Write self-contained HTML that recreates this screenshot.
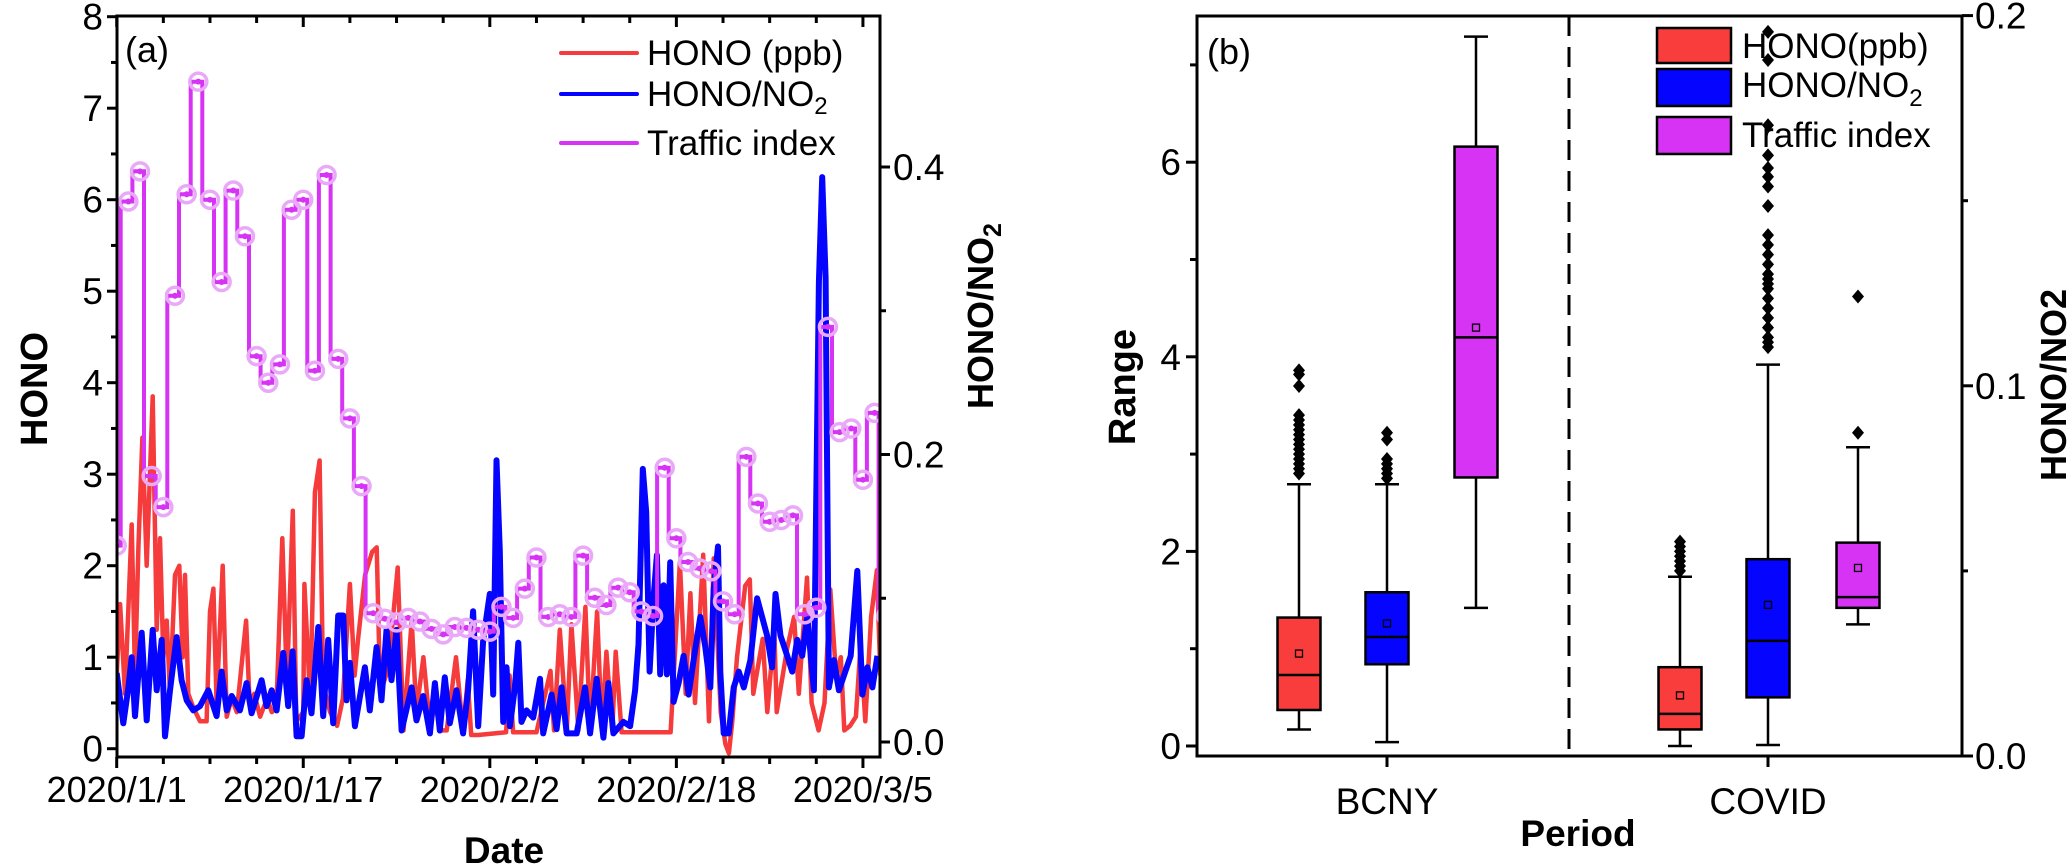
<!DOCTYPE html>
<html><head><meta charset="utf-8"><style>
html,body{margin:0;padding:0;background:#fff;}
svg{display:block;font-family:"Liberation Sans",Arial,sans-serif;}
</style></head><body>
<svg id="fig" width="2067" height="865" viewBox="0 0 2067 865" xmlns="http://www.w3.org/2000/svg">
<defs><clipPath id="clipA"><rect x="117" y="16" width="763" height="741"/></clipPath></defs>
<g id="panelA"></g>
<g id="panelB"></g>
</svg>
<script>
// ---------- Panel (a) data ----------
const trafficDays = [0,1,2,3,4,5,6,7,8,9,10,11,12,13,14,15,16,17,18,19,20,21,22,23,24,25,26,27,28,29,30,31,32,33,34,35,36,37,38,39,40,41,42,43,44,45,46,47,48,49,50,51,52,53,54,55,56,57,58,59,60,61,62,63,64,65,66];
const trafficVals = [2.22,5.98,6.31,2.98,2.64,4.95,6.06,7.29,6.0,5.1,6.10,5.6,4.29,4.0,4.2,5.89,6.0,4.13,6.27,4.26,3.61,2.87,1.48,1.42,1.38,1.43,1.39,1.31,1.25,1.33,1.32,1.30,1.28,1.55,1.43,1.75,2.09,1.44,1.47,1.44,2.11,1.65,1.57,1.76,1.71,1.5,1.45,3.07,2.30,2.04,1.97,1.94,1.61,1.47,3.19,2.68,2.48,2.50,2.55,1.47,1.54,4.61,3.46,3.50,2.94,3.67,1.45];
const honoDays = [0,0.29,0.71,1.29,1.57,1.86,2.2,2.57,3.09,3.43,3.71,4.0,4.29,4.57,5.0,5.37,5.66,5.86,6.14,6.57,7.14,7.71,8.0,8.29,8.57,9.09,9.43,9.86,10.3,11.1,11.4,11.8,12.3,12.9,13.3,13.7,14.2,14.6,15.1,15.4,16.0,16.1,16.6,17.0,17.4,17.7,18.3,18.9,19.4,20.0,20.4,20.7,21.3,21.9,22.3,22.6,23.1,23.6,24.1,24.6,25.3,25.7,26.3,26.9,27.3,27.7,28.3,29.1,29.7,30.1,30.4,31,33.4,33.7,34.0,36.0,37.2,37.5,38.0,38.6,39.0,39.6,40.2,40.6,41.2,41.6,42.0,42.5,42.8,43.3,47.5,47.9,48.3,48.8,49.2,49.6,50.3,50.8,51.2,51.8,52.2,52.5,52.8,53.2,53.9,54.3,54.6,55.4,55.8,56.4,56.6,57.5,58.1,58.5,59.2,59.6,60.2,60.7,61.2,61.7,62.1,62.4,62.9,63.4,63.8,64.2,64.7,65.2,65.5];
const honoVals = [0.8,1.58,0.6,2.45,0.8,2.2,3.4,2.0,3.85,1.3,2.3,1.0,1.4,0.6,1.9,2.0,1.0,1.9,0.6,0.45,0.3,0.3,1.5,1.75,0.5,2.0,0.35,0.55,0.4,1.4,0.5,0.6,0.35,0.55,0.4,0.45,2.3,0.7,2.6,0.3,0.4,1.8,0.5,2.8,3.15,0.7,0.4,0.25,0.55,1.8,0.8,1.2,1.9,2.15,2.2,0.6,0.8,1.3,1.98,0.2,1.4,0.4,1.0,0.2,0.55,0.2,0.2,1.0,0.2,0.75,0.15,0.15,0.18,0.8,0.18,0.18,0.85,0.2,1.3,0.2,1.36,0.2,1.55,0.2,1.5,0.2,1.06,0.2,1.06,0.18,0.18,1.1,2.04,0.6,1.7,0.5,2.12,0.3,2.08,0.4,0.05,-0.05,0.3,1.0,1.78,1.85,0.6,1.2,0.4,1.3,0.4,1.1,1.44,0.6,1.87,0.5,0.2,0.5,1.74,0.8,1.0,0.2,0.25,0.35,1.14,0.3,1.44,1.95,0.8];
const ratioDays = [0,0.57,1.0,1.29,1.57,2.14,2.57,3.09,3.43,3.86,4.14,4.57,5.14,5.57,6.0,6.57,7.14,7.86,8.57,9.0,9.43,9.86,10.57,11.14,11.57,12.43,12.86,13.29,13.71,14.29,14.71,15.09,15.43,15.86,16.29,16.71,17.29,17.71,18.14,18.57,19.0,19.43,19.71,20.0,20.43,21.29,21.71,22.29,22.71,23.14,23.57,24.0,24.43,25.29,25.71,26.29,26.86,27.29,27.71,28.14,28.57,29.14,29.71,30.14,30.57,31.0,31.43,32.0,
32.29,32.57,32.86,33.15,33.43,33.72,34.15,34.44,34.72,35.15,35.72,36.30,36.58,37.30,37.73,38.16,38.59,39.45,40.17,40.60,41.17,41.74,42.17,42.60,43.46,44.03,44.46,44.75,45.12,45.41,45.70,46.04,46.33,46.61,46.90,47.19,47.47,47.76,48.19,48.62,49.05,49.48,50.05,50.48,50.91,51.20,51.57,51.77,52.06,52.49,52.92,53.35,53.78,54.35,54.92,55.35,55.78,56.21,56.50,56.93,57.50,57.93,58.36,58.79,59.22,59.79,60.22,60.51,60.80,61.08,61.51,61.94,62.95,63.52,63.95,64.38,64.81,65.24];
const ratioVals = [0.048,0.013,0.038,0.059,0.018,0.076,0.015,0.078,0.036,0.071,0.004,0.036,0.073,0.043,0.029,0.022,0.025,0.036,0.018,0.049,0.022,0.032,0.022,0.041,0.020,0.043,0.025,0.036,0.022,0.062,0.025,0.063,0.004,0.004,0.043,0.020,0.080,0.018,0.071,0.013,0.088,0.088,0.029,0.055,0.011,0.052,0.022,0.066,0.029,0.078,0.043,0.078,0.008,0.038,0.015,0.032,0.006,0.041,0.008,0.045,0.013,0.036,0.006,0.036,0.091,0.011,0.071,0.103,
0.033,0.196,0.133,0.014,0.052,0.011,0.038,0.069,0.014,0.022,0.017,0.044,0.006,0.033,0.009,0.038,0.006,0.006,0.038,0.006,0.044,0.003,0.041,0.006,0.014,0.011,0.036,0.068,0.190,0.160,0.049,0.100,0.130,0.047,0.109,0.047,0.125,0.028,0.041,0.060,0.033,0.057,0.087,0.066,0.038,0.106,0.136,0.049,0.006,0.006,0.038,0.049,0.038,0.057,0.100,0.087,0.074,0.052,0.103,0.074,0.060,0.049,0.071,0.060,0.087,0.036,0.320,0.393,0.323,0.038,0.057,0.036,0.060,0.119,0.033,0.052,0.038,0.060];
const xTickLabels = ["2020/1/1","2020/1/17","2020/2/2","2020/2/18","2020/3/5"];
const xTickDays = [0,16,32,48,64];
const leftTicksA = [0,1,2,3,4,5,6,7,8];
const rightTicksA = ["0.0","0.2","0.4"];

// ---------- Panel (b) data ----------
const periods = ["BCNY","COVID"];
const seriesNames = ["HONO(ppb)","HONO/NO2","Traffic index"];
const q1 = [[0.37,0.84,2.76],[0.17,0.50,1.42]];
const q3 = [[1.32,1.58,6.16],[0.81,1.92,2.09]];
const medians = [[0.73,1.12,4.20],[0.33,1.08,1.53]];
const means = [[0.95,1.26,4.30],[0.52,1.45,1.83]];
const whiskLow = [[0.17,0.04,1.42],[0.0,0.01,1.25]];
const whiskHigh = [[2.69,2.69,7.29],[1.74,3.92,3.07]];
const outliers = [
  [[2.8,2.85,2.9,2.95,3.0,3.05,3.1,3.15,3.2,3.25,3.3,3.35,3.4,3.7,3.82,3.86],[2.75,2.8,2.85,2.9,2.95,3.15,3.22],[]],
  [[1.8,1.85,1.9,1.95,2.0,2.05,2.1],[4.1,4.15,4.2,4.3,4.4,4.5,4.6,4.7,4.75,4.8,4.85,4.95,5.05,5.15,5.25,5.55,5.75,5.85,5.94,6.07,6.38,7.05,7.34],[3.22,4.62]]
];
const leftTicksB = [0,2,4,6];
const rightTicksB = ["0.0","0.1","0.2"];

const NS = "http://www.w3.org/2000/svg";
function mk(tag, attrs, parent){ const e=document.createElementNS(NS,tag); for(const k in attrs) e.setAttribute(k,attrs[k]); parent.appendChild(e); return e; }

// ===== Panel A =====
const A = document.getElementById('panelA');
const xA = d => 116.7 + d*11.66;
const yA = v => 748.7 - v*91.5;
const yR = r => 742 - r*1437.5;
const red="#f53b3b", blue="#0505ff", mag="#d633f5";

const plotA = mk('g',{'clip-path':'url(#clipA)'},A);



let p = '';
for(let i=0;i<Math.min(honoDays.length,honoVals.length);i++) p += (i?'L':'M')+xA(honoDays[i]).toFixed(1)+','+yA(honoVals[i]).toFixed(1);
const redLine = mk('path',{d:p,fill:'none',stroke:red,'stroke-width':4.5,'stroke-linejoin':'round'},plotA);



p='';
for(let i=0;i<Math.min(ratioDays.length,ratioVals.length);i++) p += (i?'L':'M')+xA(ratioDays[i]).toFixed(1)+','+yR(ratioVals[i]).toFixed(1);
const blueLine = mk('path',{d:p,fill:'none',stroke:blue,'stroke-width':6,'stroke-linejoin':'round'},plotA);



p='M'+xA(trafficDays[0])+','+yA(trafficVals[0]);
for(let i=1;i<trafficDays.length;i++){ p+='L'+(xA(trafficDays[i-1])+4).toFixed(1)+','+yA(trafficVals[i-1]).toFixed(1)+'L'+(xA(trafficDays[i-1])+4).toFixed(1)+','+yA(trafficVals[i]).toFixed(1)+'L'+xA(trafficDays[i]).toFixed(1)+','+yA(trafficVals[i]).toFixed(1);}
const trafLine = mk('path',{d:p,fill:'none',stroke:mag,'stroke-width':4},plotA);


for(let i=0;i<trafficDays.length;i++){
  const g = mk('g',{},plotA);
  
  
  mk('circle',{cx:xA(trafficDays[i]),cy:yA(trafficVals[i]),r:8.5,fill:'none',stroke:'#eaa9f8','stroke-width':3.5},g);
  mk('circle',{cx:xA(trafficDays[i]),cy:yA(trafficVals[i]),r:3,fill:mag},g);
}
// frame
const frameA = mk('rect',{x:117,y:16,width:763,height:741,fill:'none',stroke:'#000','stroke-width':3},A);


// left ticks
const ltA = mk('g',{},A);


for(let v=0; v<=8; v+=0.5){ mk('line',{x1:117,x2:(v%1===0)?107:111,y1:yA(v),y2:yA(v),stroke:'#000','stroke-width':3},ltA); }
leftTicksA.forEach(v=>{ const t=mk('text',{x:103,y:yA(v)+13,'text-anchor':'end','font-size':37},ltA); t.textContent=v; });
// right ticks
const rtA = mk('g',{},A);


[0,0.1,0.2,0.3,0.4].forEach((r,i)=>{ mk('line',{x1:880,x2:(i%2===0)?890:886,y1:yR(r),y2:yR(r),stroke:'#000','stroke-width':3},rtA); });
rightTicksA.forEach(s=>{ const t=mk('text',{x:893,y:yR(parseFloat(s))+13,'font-size':37},rtA); t.textContent=s; });
// x ticks
const xtA = mk('g',{},A);


for(let d=0; d<=64; d+=4){ const maj = d%16===0; mk('line',{x1:xA(d),x2:xA(d),y1:757,y2:maj?768:764,stroke:'#000','stroke-width':3},xtA); mk('line',{x1:xA(d),x2:xA(d),y1:16,y2:maj?27:23,stroke:'#000','stroke-width':3},xtA); }
xTickLabels.forEach((s,i)=>{ const t=mk('text',{x:xA(xTickDays[i]),y:802,'text-anchor':'middle','font-size':36},xtA); t.textContent=s; });
let t;
t=mk('text',{x:504,y:863,'text-anchor':'middle','font-size':37,'font-weight':'bold'},A); t.textContent='Date';
 
t=mk('text',{x:0,y:0,'text-anchor':'middle','font-size':38,'font-weight':'bold',transform:'translate(47,389) rotate(-90)'},A); t.textContent='HONO';
 
t=mk('text',{x:0,y:0,'text-anchor':'middle','font-size':36,'font-weight':'bold',transform:'translate(993,316) rotate(-90)'},A);
t.innerHTML='HONO/NO<tspan font-size="25" dy="8">2</tspan>';
 
t=mk('text',{x:125,y:62,'font-size':36},A); t.textContent='(a)';
 
// legend a
const legA = mk('g',{},A);


[[red,53,'HONO (ppb)'],[blue,94,'HONO/NO'],[mag,143,'Traffic index']].forEach((r,i)=>{
  const g=mk('g',{},legA);
  
  
  mk('line',{x1:561,x2:637,y1:r[1],y2:r[1],stroke:r[0],'stroke-width':4,'stroke-linecap':'round'},g);
  const tt=mk('text',{x:647,y:r[1]+12,'font-size':35},g);
  if(i===1) tt.innerHTML='HONO/NO<tspan font-size="24" dy="8">2</tspan>'; else tt.textContent=r[2];
});

// ===== Panel B =====
const B = document.getElementById('panelB');
const yB = v => 746 - v*97.3;
const centers = [[1299,1387,1476],[1680,1768,1858]];
const catX = [1387,1768];
const fills = ['#f93d3d','#0505ff','#d633f5'];
const bw = 43;
for(let c=0;c<2;c++) for(let s=0;s<3;s++){
  const g = mk('g',{},B);
  
  
  const cx = centers[c][s];
  mk('line',{x1:cx,x2:cx,y1:yB(whiskLow[c][s]),y2:yB(whiskHigh[c][s]),stroke:'#000','stroke-width':2.5},g);
  mk('line',{x1:cx-12,x2:cx+12,y1:yB(whiskLow[c][s]),y2:yB(whiskLow[c][s]),stroke:'#000','stroke-width':2.5},g);
  mk('line',{x1:cx-12,x2:cx+12,y1:yB(whiskHigh[c][s]),y2:yB(whiskHigh[c][s]),stroke:'#000','stroke-width':2.5},g);
  mk('rect',{x:cx-bw/2,y:yB(q3[c][s]),width:bw,height:yB(q1[c][s])-yB(q3[c][s]),fill:fills[s],stroke:'#000','stroke-width':2.5},g);
  mk('line',{x1:cx-bw/2,x2:cx+bw/2,y1:yB(medians[c][s]),y2:yB(medians[c][s]),stroke:'#000','stroke-width':2.5},g);
  mk('rect',{x:cx-3.5,y:yB(means[c][s])-3.5,width:7,height:7,fill:'none',stroke:'#000','stroke-width':1.3},g);
  outliers[c][s].forEach(v=>{ const y=yB(v); mk('path',{d:`M${cx},${y-7}L${cx+6},${y}L${cx},${y+7}L${cx-6},${y}Z`,fill:'#000'},g); });
}
const frameB = mk('rect',{x:1197,y:16,width:765,height:740,fill:'none',stroke:'#000','stroke-width':3},B);


const dash = mk('line',{x1:1569,x2:1569,y1:16,y2:756,stroke:'#000','stroke-width':3,'stroke-dasharray':'20 11'},B);


const ltB = mk('g',{},B);


for(let v=0; v<=7; v++){ mk('line',{x1:1197,x2:(v%2===0)?1186:1190,y1:yB(v),y2:yB(v),stroke:'#000','stroke-width':3},ltB); }
leftTicksB.forEach(v=>{ const tt=mk('text',{x:1181,y:yB(v)+13,'text-anchor':'end','font-size':37},ltB); tt.textContent=v; });
const rtB = mk('g',{},B);


const yRB = r => 756 - r*3702;
[0,0.05,0.1,0.15,0.2].forEach((r,i)=>{ mk('line',{x1:1962,x2:(i%2===0)?1973:1968,y1:yRB(r),y2:yRB(r),stroke:'#000','stroke-width':3},rtB); });
rightTicksB.forEach(s=>{ const tt=mk('text',{x:1975,y:yRB(parseFloat(s))+13,'font-size':37},rtB); tt.textContent=s; });
const xtB = mk('g',{},B);


periods.forEach((s,i)=>{ mk('line',{x1:catX[i],x2:catX[i],y1:756,y2:767,stroke:'#000','stroke-width':3},xtB); const tt=mk('text',{x:catX[i],y:814,'text-anchor':'middle','font-size':37},xtB); tt.textContent=s; });
t=mk('text',{x:1578,y:846,'text-anchor':'middle','font-size':37,'font-weight':'bold'},B); t.textContent='Period';
 
t=mk('text',{x:0,y:0,'text-anchor':'middle','font-size':38,'font-weight':'bold',transform:'translate(1135,387) rotate(-90)'},B); t.textContent='Range';
 
t=mk('text',{x:0,y:0,'text-anchor':'middle','font-size':36,'font-weight':'bold',transform:'translate(2066,385) rotate(-90)'},B); t.textContent='HONO/NO2';
 
t=mk('text',{x:1207,y:64,'font-size':36},B); t.textContent='(b)';
 
const legB = mk('g',{},B);


[[28,63,58],[69,106,97],[117,154,147]].forEach((r,i)=>{
  const g=mk('g',{},legB);
  
  
  mk('rect',{x:1657,y:r[0],width:74,height:r[1]-r[0],fill:fills[i],stroke:'#000','stroke-width':2.5},g);
  const tt=mk('text',{x:1742,y:r[2],'font-size':35},g);
  if(i===1) tt.innerHTML='HONO/NO<tspan font-size="24" dy="9">2</tspan>'; else tt.textContent=seriesNames[i];
});
</script>
</body></html>
